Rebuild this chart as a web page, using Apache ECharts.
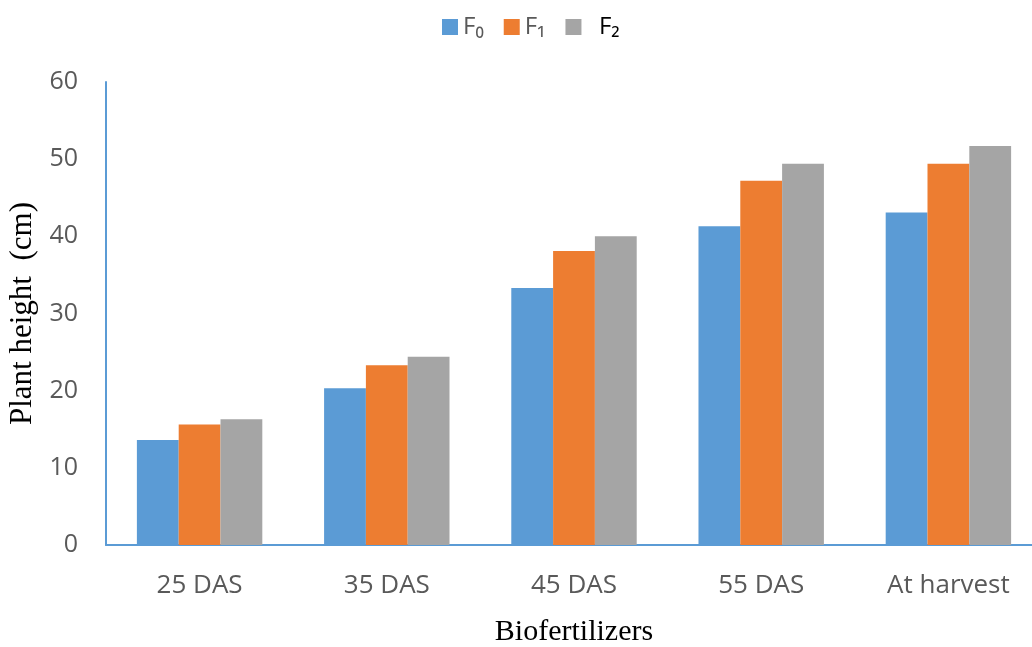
<!DOCTYPE html>
<html><head><meta charset="utf-8">
<script src="https://cdn.jsdelivr.net/npm/echarts@6/dist/echarts.min.js"></script>
<style>html,body{margin:0;padding:0;background:#fff}#c{width:1032px;height:647px}</style>
</head><body><div id="c"></div>
<script>
const categories = ['25 DAS', '35 DAS', '45 DAS', '55 DAS', 'At harvest'];
const seriesNames = ['F\u2080', 'F\u2081', 'F\u2082'];
const f0 = [13.6, 20.3, 33.3, 41.3, 43.1];
const f1 = [15.6, 23.3, 38.1, 47.2, 49.4];
const f2 = [16.3, 24.4, 40.0, 49.4, 51.7];
const yTicks = [0, 10, 20, 30, 40, 50, 60];
const colors = ['#5b9bd5', '#ed7d31', '#a5a5a5'];

const chart = echarts.init(document.getElementById('c'));
const data = [f0, f1, f2];
chart.setOption({
  animation: false,
  legend: {
    top: 10, left: 437,
    itemWidth: 16, itemHeight: 16, itemGap: 20,
    icon: 'rect',
    formatter: n => (n === seriesNames[2] ? '  ' + n : n),
    textStyle: { fontFamily: 'Open Sans', fontSize: 24, color: '#595959' },
    data: seriesNames.map((n, i) => ({ name: n, textStyle: i === 2 ? { color: '#000' } : {} }))
  },
  grid: { left: 106, width: 936, top: 82, bottom: 102, containLabel: false, outerBoundsMode: 'none' },
  xAxis: {
    type: 'category', data: categories,
    name: 'Biofertilizers', nameLocation: 'middle', nameGap: 72,
    nameTextStyle: { fontFamily: 'Liberation Serif', fontSize: 30, color: '#000' },
    axisLine: { lineStyle: { color: '#5b9bd5', width: 2 } },
    axisTick: { show: false },
    axisLabel: { fontFamily: 'Open Sans', fontSize: 26, color: '#595959', margin: 28 }
  },
  yAxis: {
    type: 'value', min: yTicks[0], max: yTicks[yTicks.length - 1], interval: 10,
    name: 'Plant height  (cm)', nameLocation: 'middle', nameGap: 63,
    nameTextStyle: { fontFamily: 'Liberation Serif', fontSize: 31, color: '#000' },
    axisLine: { show: true, lineStyle: { color: '#5b9bd5', width: 2 } },
    axisTick: { show: false },
    splitLine: { show: false },
    axisLabel: { fontFamily: 'Open Sans', fontSize: 25, color: '#595959', margin: 28 }
  },
  series: seriesNames.map((n, i) => ({
    name: n, type: 'bar', data: data[i],
    barGap: '0%', barCategoryGap: '33%',
    itemStyle: { color: colors[i] }
  }))
});
</script></body></html>
